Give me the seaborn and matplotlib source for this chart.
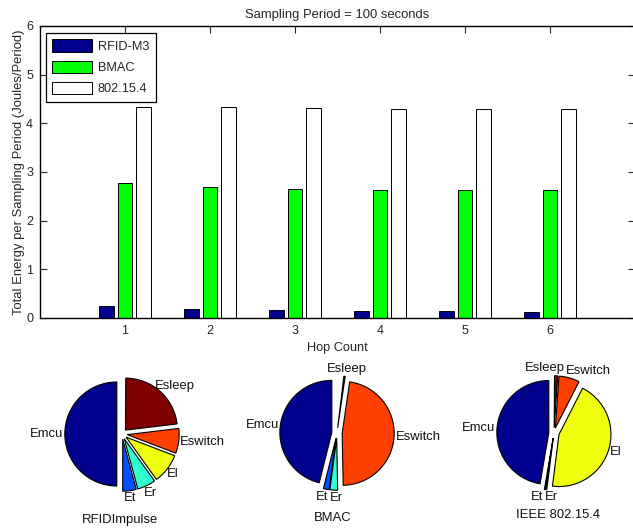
import numpy as np
import pandas as pd
import matplotlib
matplotlib.use("Agg")
import matplotlib.pyplot as plt
import seaborn as sns

# ---------------- data ----------------
hops = [1, 2, 3, 4, 5, 6]
protocols = ["RFID-M3", "BMAC", "802.15.4"]
rfid_m3 = [0.25, 0.19, 0.16, 0.15, 0.14, 0.13]
bmac = [2.78, 2.70, 2.66, 2.64, 2.63, 2.63]
ieee = [4.34, 4.33, 4.31, 4.30, 4.30, 4.30]

components = ["Emcu", "Et", "Er", "El", "Eswitch", "Esleep"]
pie_titles = ["RFIDImpulse", "BMAC", "IEEE 802.15.4"]
# fractions of the full circle (MATLAB draws a partial pie if they sum < 1)
share_rfid = [0.500, 0.042, 0.057, 0.093, 0.077, 0.230]
share_bmac = [0.461, 0.018, 0.024, 0.000, 0.474, 0.004]
share_ieee = [0.473, 0.003, 0.004, 0.445, 0.064, 0.010]

title = "Sampling Period = 100 seconds"
xlabel = "Hop Count"
ylabel = "Total Energy per Sampling Period (Joules/Period)"
yticks = [0, 1, 2, 3, 4, 5, 6]

# ---------------- style ----------------
sns.set_style("ticks")
plt.rcParams["font.family"] = ["Liberation Sans", "DejaVu Sans"]

W, H = 633, 529
fig = plt.figure(figsize=(W / 100, H / 100), dpi=100)


def rect(x0, y0, x1, y1):
    return [x0 / W, 1 - y1 / H, (x1 - x0) / W, (y1 - y0) / H]


df = pd.DataFrame({
    "hop": [str(h) for h in hops] * 3,
    "protocol": np.repeat(protocols, len(hops)),
    "energy": rfid_m3 + bmac + ieee,
})

bar_colors = {"RFID-M3": "#00008F", "BMAC": "#00FF00", "802.15.4": "#FFFFFF"}

ax = fig.add_axes(rect(40, 26, 635, 318))
sns.barplot(data=df, x="hop", y="energy", hue="protocol", hue_order=protocols,
            palette=bar_colors, width=0.67, gap=0.21, edgecolor="black",
            linewidth=0.7, saturation=1, errorbar=None, ax=ax)
ax.set_xlim(-1, 6)
ax.set_ylim(0, 6)
ax.set_yticks(yticks)
ax.set_title(title, fontsize=9.4, pad=6)
ax.set_xlabel(xlabel, fontsize=9.2, labelpad=4)
ax.set_ylabel(ylabel, fontsize=9.4, labelpad=1)
ax.tick_params(direction="in", top=True, right=True, length=5, width=0.8,
               labelsize=9, pad=5)
for s in ax.spines.values():
    s.set_visible(True)
    s.set_linewidth(1.0)
    s.set_color("black")

h, l = ax.get_legend_handles_labels()
leg = ax.legend(h, l, loc="upper left", bbox_to_anchor=(6 / 595, 1 - 7 / 292),
                borderaxespad=0, fontsize=9.2, handlelength=3.1,
                handleheight=1.1, handletextpad=0.45, labelspacing=0.6,
                borderpad=0.5, fancybox=False, framealpha=1, edgecolor="black")
leg.get_frame().set_linewidth(0.9)

# ---------------- pies ----------------
pie_colors = ["#00008F", "#0050FF", "#30FFD0", "#EFFF10", "#FF4000", "#800000"]
pie_centers = [(122, 434), (337, 433), (554, 433)]
title_pos = [(120, 520), (333, 518), (558, 515)]
R = 52
half = 75
pies = []
for shares, center, ptitle, tpos in zip([share_rfid, share_bmac, share_ieee],
                                        pie_centers, pie_titles, title_pos):
    cx, cy = center
    pax = fig.add_axes(rect(cx - half, cy - half, cx + half, cy + half))
    vals = [v for v in shares if v > 0]
    labs = [c for c, v in zip(components, shares) if v > 0]
    cols = [c for c, v in zip(pie_colors, shares) if v > 0]
    wedges, _ = pax.pie(vals, colors=cols, startangle=90, counterclock=True,
                        explode=[0.1] * len(vals), normalize=False,
                        wedgeprops=dict(edgecolor="black", linewidth=0.8))
    lim = half / R
    pax.set_xlim(-lim, lim)
    pax.set_ylim(-lim, lim)
    pax.set_aspect("equal")
    pax.axis("off")
    texts = []
    for wdg, lab in zip(wedges, labs):
        th = np.deg2rad((wdg.theta1 + wdg.theta2) / 2)
        t = pax.text(1.13 * np.cos(th), 1.13 * np.sin(th), lab, ha="center",
                     va="center", fontsize=9.4, color="#111111")
        texts.append((t, th))
    pies.append((pax, texts))
    fig.text(tpos[0] / W, 1 - tpos[1] / H, ptitle, ha="center", va="center",
             fontsize=9.4, color="#111111")

# MATLAB-like label placement: push each label outward by half its extent,
# then separate overlapping labels horizontally.
fig.canvas.draw()
renderer = fig.canvas.get_renderer()
for pax, texts in pies:
    items = []
    for t, th in texts:
        bb = t.get_window_extent(renderer)
        x, y = pax.transData.transform(t.get_position())
        x += bb.width / 2 * np.cos(th)
        y += bb.height / 2 * np.sin(th)
        items.append([t, x, y, bb.width, bb.height])
    for _ in range(20):
        moved = False
        for i in range(len(items)):
            for j in range(i + 1, len(items)):
                a, b = items[i], items[j]
                ox = (a[3] + b[3]) / 2 - abs(a[1] - b[1])
                oy = (a[4] + b[4]) / 2 * 0.8 - abs(a[2] - b[2])
                if ox > 0 and oy > 0:
                    left, right = (a, b) if a[1] <= b[1] else (b, a)
                    left[1] -= ox / 2 + 0.5
                    right[1] += ox / 2 + 0.5
                    moved = True
        if not moved:
            break
    inv = pax.transData.inverted()
    for t, x, y, w_, h_ in items:
        t.set_position(inv.transform((x, y)))

fig.savefig("out.png", dpi=100)
